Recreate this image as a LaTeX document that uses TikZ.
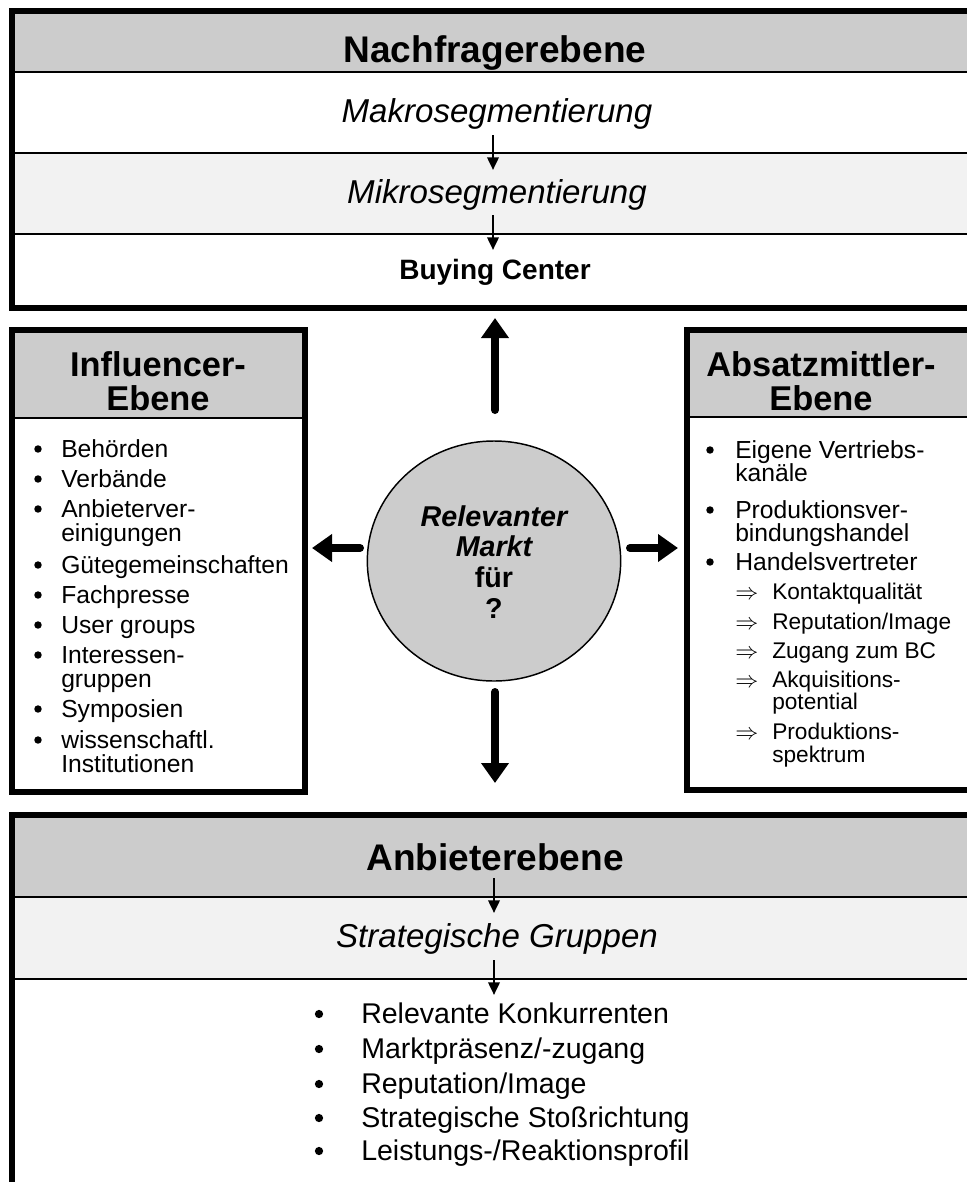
\documentclass[tikz,border=0pt]{standalone}
\usepackage{fontspec}
\setmainfont{Liberation Sans}
\usetikzlibrary{arrows.meta,shapes.geometric}
\definecolor{hdrgray}{HTML}{CCCCCC}
\definecolor{rowgray}{HTML}{F2F2F2}

\tikzset{
  frame/.style={draw=black, line width=4.5pt},
  hline/.style={line width=1.5pt},
  rline/.style={line width=1.1pt},
  title/.style={inner sep=0, anchor=base, font=\fontsize{27.8}{30}\selectfont\bfseries},
  subtitle/.style={inner sep=0, anchor=base, font=\fontsize{24.8}{28}\selectfont\itshape},
  boxtitle/.style={inner sep=0, anchor=base, font=\fontsize{25.8}{28}\selectfont\bfseries},
  sideitem/.style={inner sep=0, anchor=base west, font=\fontsize{18.5}{22}\selectfont},
  subitem/.style={inner sep=0, anchor=base west, font=\fontsize{17}{20}\selectfont},
  listitem/.style={inner sep=0, anchor=base west, font=\fontsize{21.4}{24}\selectfont},
  circtext/.style={inner sep=0, anchor=base, font=\fontsize{21.5}{24}\selectfont\bfseries},
  dot/.style={circle, fill=black, inner sep=0, minimum size=5.6pt},
  bigdot/.style={circle, fill=black, inner sep=0, minimum size=6.2pt},
  flowarr/.style={line width=1.9pt, -{Triangle[width=8.5pt,length=9.5pt]}},
  bigarr/.style={line width=6pt, line cap=round, -{Triangle[width=20pt,length=15pt]}},
}

\begin{document}
\begin{tikzpicture}[x=0.75pt,y=-0.75pt]
\useasboundingbox (0,0) rectangle (967,1182);
\clip (0,0) rectangle (967,1182);

% ---------- Nachfragerebene ----------
\fill[hdrgray] (12,11) rectangle (990,72);
\fill[rowgray] (12,153) rectangle (990,234);
\draw[hline] (12,72) -- (990,72);
\draw[rline] (12,153) -- (990,153);
\draw[rline] (12,234) -- (990,234);
\draw[frame] (12,11) rectangle (990,308);
\node[title] (nach) at (495,62) {Nachfragerebene};
\node[subtitle] (makro) at (497,122) {Makrosegmentierung};
\node[subtitle] (mikro) at (497,203) {Mikrosegmentierung};
\node[inner sep=0, anchor=base, font=\fontsize{21}{24}\selectfont\bfseries] (bc) at (495,279) {Buying Center};
\coordinate (makroS) at (493,135);
\coordinate (mikroN) at (493,170);
\coordinate (mikroS) at (493,215);
\coordinate (bcN) at (493,250);
\draw[flowarr] (makroS) -- (mikroN);
\draw[flowarr] (mikroS) -- (bcN);

% ---------- Influencer-Ebene ----------
\fill[hdrgray] (12,330) rectangle (305,418);
\draw[hline] (12,418) -- (305,418);
\draw[frame] (12,330) rectangle (305,792);
\node[boxtitle] (inf1) at (158,376) {Influencer-};
\node[boxtitle] (inf2) at (158,410) {Ebene};
\foreach \yy/\txt [count=\i] in {457/Behörden, 487/Verbände, 517/Anbieterver-,
    541/einigungen, 573/Gütegemeinschaften, 603/Fachpresse, 633/User groups,
    663/Interessen-, 687/gruppen, 717/Symposien, 748/wissenschaftl.,
    772/Institutionen}
  \node[sideitem] (infl\i) at (61,\yy) {\txt};
\foreach \yy [count=\i] in {457,487,517,573,603,633,663,717,748}
  \node[dot] (infb\i) at (38,\yy-8) {};

% ---------- Absatzmittler-Ebene ----------
\fill[hdrgray] (687,330) rectangle (990,417);
\draw[hline] (687,417) -- (990,417);
\draw[frame] (687,330) rectangle (990,790);
\node[boxtitle] (abs1) at (821,376) {Absatzmittler-};
\node[boxtitle] (abs2) at (821,410) {Ebene};
\foreach \yy/\txt [count=\i] in {458/Eigene Vertriebs-, 481/kanäle,
    518/Produktionsver-, 541/bindungshandel, 570/Handelsvertreter}
  \node[sideitem] (absl\i) at (735,\yy) {\txt};
\foreach \yy [count=\i] in {458,518,570}
  \node[dot] (absb\i) at (710,\yy-8) {};
\foreach \yy/\txt [count=\i] in {599/Kontaktqualität, 629/{Reputation/Image},
    658/Zugang zum BC, 687/Akquisitions-, 709/potential,
    739/Produktions-, 762/spektrum}
  \node[subitem] (abss\i) at (772,\yy) {\txt};
\foreach \yy [count=\i] in {599,629,658,687,739}
  \node[subitem] (absa\i) at (735,\yy) {$\Rightarrow$};

% ---------- Relevanter Markt ----------
\node[ellipse, draw, line width=1.1pt, fill=hdrgray, inner sep=0,
      minimum width=190pt, minimum height=180pt] (mkt) at (494,561) {};
\node[circtext] (mkt1) at (494,526) {\itshape Relevanter};
\node[circtext] (mkt2) at (494,556) {\itshape Markt};
\node[circtext] (mkt3) at (494,587) {für};
\node[circtext] (mkt4) at (494,618) {?};

\coordinate (upT) at (495,410);   \coordinate (upH) at (495,318);
\coordinate (lfT) at (360,548);   \coordinate (lfH) at (312,548);
\coordinate (rtT) at (630,548);   \coordinate (rtH) at (678,548);
\coordinate (dnT) at (495,692);   \coordinate (dnH) at (495,783);
\draw[bigarr] (upT) -- (upH);
\draw[bigarr] (lfT) -- (lfH);
\draw[bigarr] (rtT) -- (rtH);
\draw[bigarr] (dnT) -- (dnH);

% ---------- Anbieterebene ----------
\fill[hdrgray] (12,815) rectangle (990,897);
\fill[rowgray] (12,897) rectangle (990,979);
\draw[rline] (12,897) -- (990,897);
\draw[rline] (12,979) -- (990,979);
\draw[frame] (12,815) rectangle (990,1210);
\node[title] (anb) at (495,870) {Anbieterebene};
\node[subtitle] (strat) at (497,947) {Strategische Gruppen};
\coordinate (anbS) at (494,878);
\coordinate (stratN) at (494,913);
\coordinate (stratS) at (494,960);
\coordinate (listN) at (494,995);
\draw[flowarr] (anbS) -- (stratN);
\draw[flowarr] (stratS) -- (listN);
\foreach \yy/\txt [count=\i] in {1023/Relevante Konkurrenten,
    1058/{Marktpräsenz/-zugang}, 1093/{Reputation/Image},
    1127/Strategische Stoßrichtung, 1160/{Leistungs-/Reaktionsprofil}}
  \node[listitem] (anbl\i) at (361,\yy) {\txt};
\foreach \yy [count=\i] in {1023,1058,1093,1127,1160}
  \node[bigdot] (anbb\i) at (319,\yy-9) {};
\end{tikzpicture}
\end{document}
